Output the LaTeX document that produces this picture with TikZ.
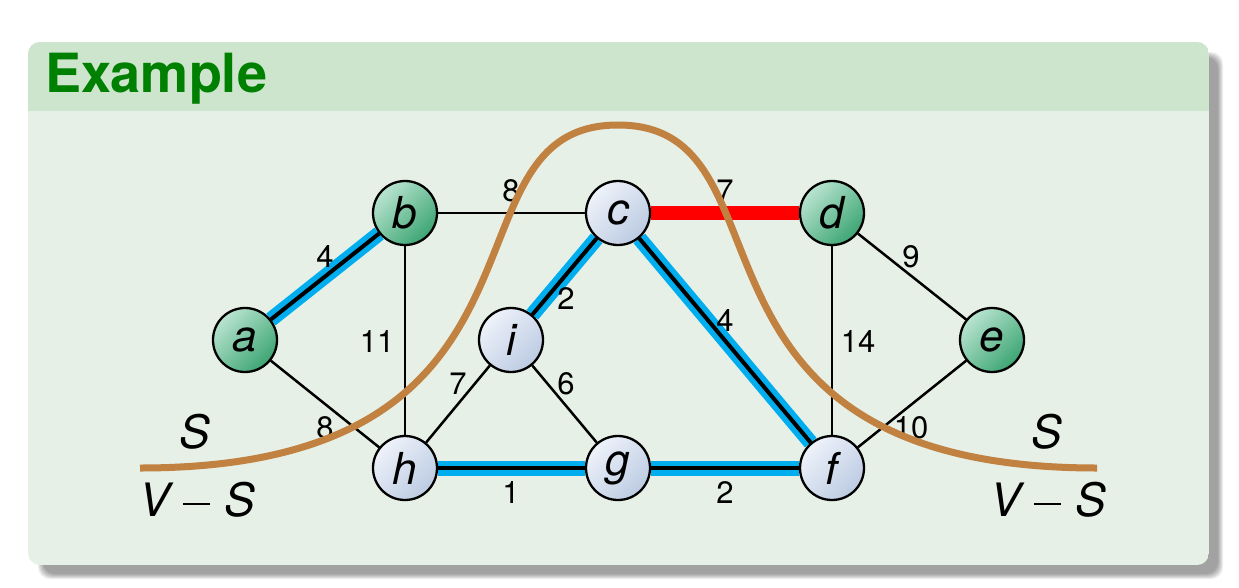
\documentclass[tikz,border=0pt]{standalone}
\usepackage{fontspec}
\setmainfont{TeX Gyre Heros}
\pgfdeclarelayer{bg}
\pgfdeclarelayer{edges}
\pgfsetlayers{bg,edges,main}
\definecolor{titlecol}{RGB}{205,229,205}
\definecolor{bodycol}{RGB}{230,240,230}
\definecolor{titletext}{RGB}{0,128,0}
\definecolor{gl}{RGB}{185,228,208}
\definecolor{gd}{RGB}{60,165,115}
\definecolor{bl}{RGB}{238,242,250}
\definecolor{bd}{RGB}{188,203,226}
\definecolor{mstcol}{RGB}{0,174,239}
\definecolor{cutcol}{RGB}{255,0,0}
\definecolor{curvecol}{RGB}{193,129,64}
\newcommand{\vmins}{\textit{V}\hspace{13pt}\raisebox{11.5pt}{\rule{27pt}{2.2pt}}\hspace{14pt}\textit{S}}
\begin{document}
\begin{tikzpicture}[x=1pt,y=-1pt,
  vtx/.style={circle, draw=black, line width=2.3pt, minimum size=64pt, inner sep=0pt,
    font=\fontsize{44}{48}\selectfont\itshape},
  gv/.style={vtx, top color=gl, bottom color=gd, shading angle=45},
  bv/.style={vtx, top color=bl, bottom color=bd, shading angle=45},
  edge/.style={draw=black, line width=2.5pt},
  mst/.style={draw=mstcol, double=black, double distance=4pt, line width=5.5pt},
  cut/.style={draw=cutcol, line width=14pt},
  wlab/.style={font=\fontsize{31}{33}\selectfont, inner sep=0pt},
  setlab/.style={font=\fontsize{46}{50}\selectfont\itshape, inner sep=0pt},
  titlelab/.style={font=\fontsize{54}{60}\selectfont\bfseries, text=titletext, inner sep=0pt, anchor=base west}
]
\useasboundingbox (0,0) rectangle (1239,587);

% block with shadow
\begin{pgfonlayer}{bg}
  \fill[white] (0,0) rectangle (1239,587);
  \foreach \k in {0,...,5}
    \fill[black, opacity=0.07, rounded corners=12] (38+\k,52+\k) rectangle (1223-\k,579-\k);
  \begin{scope}
    \clip[rounded corners=12] (28,42) rectangle (1209,565);
    \fill[bodycol] (28,42) rectangle (1209,565);
    \fill[titlecol] (28,42) rectangle (1209,111);
  \end{scope}
\end{pgfonlayer}
\node[titlelab] (title) at (45,92) {Example};

% vertices
\node[gv] (a) at (245,340) {a};
\node[gv] (b) at (405,213) {b};
\node[bv] (c) at (618,213) {c};
\node[gv] (d) at (832,213) {d};
\node[gv] (e) at (992,340) {e};
\node[bv] (i) at (511,340) {i};
\node[bv] (h) at (405,468) {h};
\node[bv] (g) at (618,468) {g};
\node[bv] (f) at (832,468) {f};

% edges
\begin{pgfonlayer}{edges}
  \draw[mst] (a) -- (b);
  \draw[edge] (a) -- (h);
  \draw[edge] (b) -- (h);
  \draw[edge] (b) -- (c);
  \draw[cut] (c) -- (d);
  \draw[mst] (c) -- (i);
  \draw[mst] (c) -- (f);
  \draw[edge] (i) -- (h);
  \draw[edge] (i) -- (g);
  \draw[mst] (h) -- (g);
  \draw[mst] (g) -- (f);
  \draw[edge] (d) -- (f);
  \draw[edge] (d) -- (e);
  \draw[edge] (e) -- (f);
\end{pgfonlayer}

% weights
\node[wlab] (wab) at (325,257) {4};
\node[wlab] (wah) at (325,428) {8};
\node[wlab] (wbh) at (377,342) {11};
\node[wlab] (wbc) at (511,191) {8};
\node[wlab] (wcd) at (725,191) {7};
\node[wlab] (wci) at (566,299) {2};
\node[wlab] (wcf) at (725,321) {4};
\node[wlab] (wih) at (458,384) {7};
\node[wlab] (wig) at (566,384) {6};
\node[wlab] (whg) at (511,493) {1};
\node[wlab] (wgf) at (725,493) {2};
\node[wlab] (wdf) at (858,342) {14};
\node[wlab] (wde) at (911,257) {9};
\node[wlab] (wef) at (911,428) {10};

% cut curve
\coordinate (cl) at (140,468);
\coordinate (cm) at (618,125);
\coordinate (cr) at (1097,468);
\draw[curvecol, line width=7pt] (cl) .. controls (583,468) and (432,125) .. (cm)
  .. controls (804,125) and (653,468) .. (cr);

% set labels
\node[setlab] (sl) at (195,432) {S};
\node[setlab] (vsl) at (197,500) {\vmins};
\node[setlab] (sr) at (1047,432) {S};
\node[setlab] (vsr) at (1048,500) {\vmins};
\end{tikzpicture}
\end{document}
